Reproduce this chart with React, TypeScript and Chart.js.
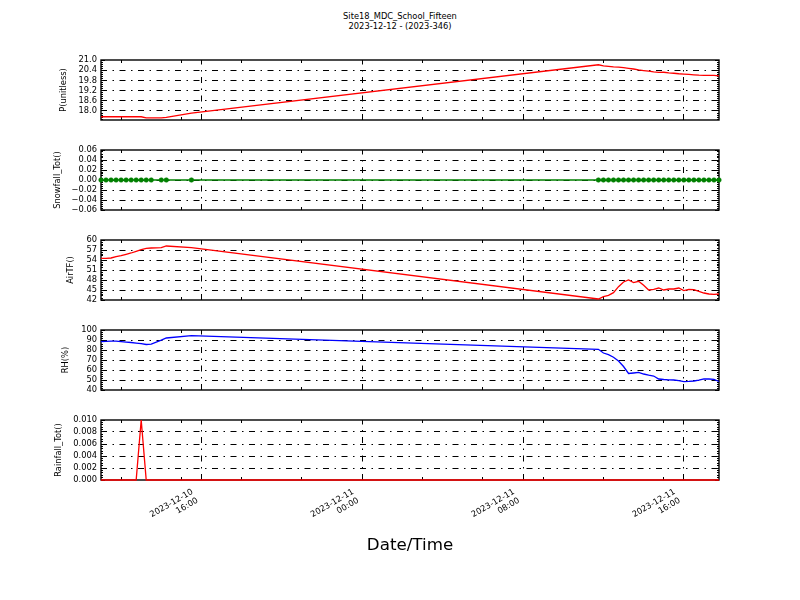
import React, { useEffect, useRef } from "react";
import { Chart, registerables } from "chart.js";

Chart.register(...registerables);

// ---------- text ----------
const TITLE_LINE1 = "Site18_MDC_School_Fifteen";
const TITLE_LINE2 = "2023-12-12 - (2023-346)";
const X_TITLE = "Date/Time";

// ---------- time axis (hours since 2023-12-10 00:00) ----------
const timeHours = [
  11.0, 11.25, 11.5, 11.75, 12.0, 12.25, 12.5, 12.75, 13.0, 13.25, 13.5, 14.0, 14.25, 15.5,
  35.75, 36.0, 36.25, 36.5, 36.75, 37.0, 37.25, 37.5, 37.75, 38.0, 38.25, 38.5, 38.75,
  39.0, 39.25, 39.5, 39.75, 40.0, 40.25, 40.5, 40.75, 41.0, 41.25, 41.5, 41.75,
];
const xMinHours = 11.0;
const xMaxHours = 41.75;
const xTickHours = [16, 24, 32, 40];
const xTickDates = ["2023-12-10", "2023-12-11", "2023-12-11", "2023-12-11"];
const xTickTimes = ["16:00", "00:00", "08:00", "16:00"];
const xMinorHours = [12, 15, 18, 21, 27, 30, 33, 36, 39];

// ---------- series ----------
const pValues = [
  17.66, 17.66, 17.66, 17.66, 17.66, 17.66, 17.66, 17.66, 17.66, 17.59, 17.59, 17.59, 17.63, 17.87,
  20.72, 20.66, 20.63, 20.6, 20.58, 20.55, 20.51, 20.47, 20.42, 20.38, 20.34, 20.3, 20.27,
  20.28, 20.24, 20.22, 20.19, 20.17, 20.15, 20.13, 20.11, 20.1, 20.1, 20.09, 20.06,
];
const snowfallValues = [
  0, 0, 0, 0, 0, 0, 0, 0, 0, 0, 0, 0, 0, 0,
  0, 0, 0, 0, 0, 0, 0, 0, 0, 0, 0, 0, 0,
  0, 0, 0, 0, 0, 0, 0, 0, 0, 0, 0, 0,
];
const airTFValues = [
  54.5, 54.5, 54.6, 55.0, 55.3, 55.7, 56.1, 56.6, 57.1, 57.5, 57.6, 57.7, 58.2, 57.7,
  42.3, 43.0, 43.4, 44.2, 46.0, 47.4, 48.0, 47.2, 47.6, 46.4, 45.0, 45.2, 45.6,
  45.0, 45.3, 45.3, 45.6, 44.8, 45.2, 45.1, 44.6, 44.1, 43.8, 43.7, 43.8,
];
const rhValues = [
  88.3, 88.6, 88.9, 88.9, 88.4, 87.9, 87.5, 86.9, 86.4, 85.5, 85.8, 89.8, 92.0, 94.3,
  80.7, 77.0, 75.3, 72.8, 69.0, 63.5, 56.5, 57.0, 57.6, 56.0, 54.8, 54.0, 51.0,
  50.5, 50.2, 50.0, 49.3, 48.4, 48.6, 49.0, 49.8, 51.2, 51.0, 50.6, 48.5,
];
const rainfallValues = [
  0, 0, 0, 0, 0, 0, 0, 0, 0.01, 0, 0, 0, 0, 0,
  0, 0, 0, 0, 0, 0, 0, 0, 0, 0, 0, 0, 0,
  0, 0, 0, 0, 0, 0, 0, 0, 0, 0, 0, 0,
];

// ---------- y tick labels ----------
const pTicks = [18.0, 18.6, 19.2, 19.8, 20.4, 21.0];
const snowTicks = [-0.06, -0.04, -0.02, 0, 0.02, 0.04, 0.06];
const airTicks = [42, 45, 48, 51, 54, 57, 60];
const rhTicks = [40, 50, 60, 70, 80, 90, 100];
const rainTicks = [0, 0.002, 0.004, 0.006, 0.008, 0.01];

const FONT = "'DejaVu Sans', 'Liberation Sans', sans-serif";
const TICK_SIZE = 8.3;

const fmtMinus = (s: string) => s.replace("-", "\u2212");

type Panel = {
  label: string;
  values: number[];
  color: string;
  min: number;
  max: number;
  ticks: number[];
  minorStep: number;
  fmt: (v: number) => string;
  markers: boolean;
  top: number; // page y of plot top
  titleX: number;
  last: boolean;
};

const panels: Panel[] = [
  { label: "P(unitless)", values: pValues, color: "#ff0000", min: 17.47, max: 21.0, ticks: pTicks, minorStep: 0.12,
    fmt: (v) => v.toFixed(1), markers: false, top: 60, titleX: 64, last: false },
  { label: "Snowfall_Tot()", values: snowfallValues, color: "#008000", min: -0.06, max: 0.06, ticks: snowTicks, minorStep: 0.004,
    fmt: (v) => fmtMinus(v.toFixed(2)), markers: true, top: 150, titleX: 58, last: false },
  { label: "AirTF()", values: airTFValues, color: "#ff0000", min: 42, max: 60, ticks: airTicks, minorStep: 0.6,
    fmt: (v) => String(Math.round(v)), markers: false, top: 240, titleX: 71, last: false },
  { label: "RH(%)", values: rhValues, color: "#0000ff", min: 40, max: 100, ticks: rhTicks, minorStep: 2,
    fmt: (v) => String(Math.round(v)), markers: false, top: 330, titleX: 66, last: false },
  { label: "Rainfall_Tot()", values: rainfallValues, color: "#ff0000", min: 0, max: 0.01, ticks: rainTicks, minorStep: 0.0004,
    fmt: (v) => v.toFixed(3), markers: false, top: 420, titleX: 59, last: true },
];

const PAD_TOP = 20;
const PLOT_H = 60;

const snap = (p: number) => Math.floor(p) + 0.5;

const mplPlugin = {
  id: "mplFrame",
  beforeDatasetsDraw(chart: any, _args: any, o: any) {
    const { ctx, chartArea: a } = chart;
    const xs = chart.scales.x;
    const ys = chart.scales.y;
    ctx.save();
    // dash-dot grid
    ctx.strokeStyle = "#000";
    ctx.lineWidth = 1;
    ctx.setLineDash([6, 5.5, 1.5, 5.5]);
    ctx.beginPath();
    for (const v of xTickHours) {
      const p = snap(xs.getPixelForValue(v));
      ctx.moveTo(p, a.bottom);
      ctx.lineTo(p, a.top);
    }
    for (const v of o.ticks as number[]) {
      const p = snap(ys.getPixelForValue(v));
      if (p <= a.top + 1 || p >= a.bottom - 1) continue;
      ctx.moveTo(a.left, p);
      ctx.lineTo(a.right, p);
    }
    ctx.stroke();
    ctx.setLineDash([]);

    // ticks (inward)
    ctx.beginPath();
    const major = 4;
    const minor = 2;
    for (const v of xTickHours) {
      const p = snap(xs.getPixelForValue(v));
      ctx.moveTo(p, a.top); ctx.lineTo(p, a.top + major);
      ctx.moveTo(p, a.bottom); ctx.lineTo(p, a.bottom - major);
    }
    for (const v of xMinorHours) {
      const p = snap(xs.getPixelForValue(v));
      ctx.moveTo(p, a.top); ctx.lineTo(p, a.top + minor + 1);
      ctx.moveTo(p, a.bottom); ctx.lineTo(p, a.bottom - minor - 1);
    }
    for (const v of o.ticks as number[]) {
      const p = snap(ys.getPixelForValue(v));
      ctx.moveTo(a.left, p); ctx.lineTo(a.left + major, p);
      ctx.moveTo(a.right, p); ctx.lineTo(a.right - major, p);
    }
    const first = (o.ticks as number[])[0];
    const step = o.minorStep as number;
    const eps = step * 1e-3;
    for (let k = -200; k <= 200; k++) {
      const v = first + k * step;
      if (v < o.min - eps || v > o.max + eps) continue;
      const p = snap(ys.getPixelForValue(v));
      ctx.moveTo(a.left, p); ctx.lineTo(a.left + minor, p);
      ctx.moveTo(a.right, p); ctx.lineTo(a.right - minor, p);
    }
    ctx.stroke();

    // frame
    ctx.lineWidth = 1.4;
    ctx.strokeRect(a.left, a.top, a.right - a.left, a.bottom - a.top);

    // y-axis title
    ctx.fillStyle = "#000";
    ctx.font = `${TICK_SIZE}px ${FONT}`;
    ctx.textAlign = "center";
    ctx.textBaseline = "middle";
    ctx.translate(o.titleX, (a.top + a.bottom) / 2);
    ctx.rotate(-Math.PI / 2);
    ctx.fillText(o.label, 0, 0);
    ctx.restore();
  },
};

function buildConfig(p: Panel): any {
  const canvasH = p.last ? 200 : 100;
  const xScaleH = 60;
  return {
    type: "line",
    data: {
      datasets: [
        {
          data: timeHours.map((t, i) => ({ x: t, y: p.values[i] })),
          borderColor: p.color,
          backgroundColor: p.color,
          borderWidth: 1.3,
          pointRadius: p.markers ? 2.3 : 0,
          pointBackgroundColor: p.color,
          pointBorderColor: p.color,
          pointBorderWidth: 0.5,
          tension: 0,
          fill: false,
          clip: false,
        },
      ],
    },
    options: {
      animation: false,
      responsive: false,
      maintainAspectRatio: false,
      devicePixelRatio: 1,
      events: [],
      layout: {
        padding: {
          left: 0,
          right: 800 - 719,
          top: PAD_TOP,
          bottom: p.last ? canvasH - PAD_TOP - PLOT_H - xScaleH : canvasH - PAD_TOP - PLOT_H,
        },
      },
      plugins: {
        legend: { display: false },
        tooltip: { enabled: false },
        title: { display: false },
        mplFrame: {
          ticks: p.ticks,
          minorStep: p.minorStep,
          min: p.min,
          max: p.max,
          label: p.label,
          titleX: p.titleX,
        },
      },
      scales: {
        x: {
          type: "linear",
          min: xMinHours,
          max: xMaxHours,
          display: p.last,
          grid: { display: false, drawTicks: false },
          border: { display: false },
          afterBuildTicks: (s: any) => {
            s.ticks = xTickHours.map((v) => ({ value: v }));
          },
          afterFit: (s: any) => {
            if (p.last) {
              s.height = xScaleH;
            } else {
              s.height = 0;
            }
            s.paddingLeft = 0;
            s.paddingRight = 0;
          },
          ticks: {
            autoSkip: false,
            minRotation: 30,
            maxRotation: 30,
            padding: 7,
            labelOffset: -9,
            color: "#000",
            font: { family: FONT, size: TICK_SIZE, lineHeight: 1.2 },
            callback: (v: number) => {
              const i = xTickHours.indexOf(v);
              return i >= 0 ? [xTickDates[i], xTickTimes[i]] : "";
            },
          },
        },
        y: {
          type: "linear",
          min: p.min,
          max: p.max,
          grid: { display: false, drawTicks: false },
          border: { display: false },
          afterBuildTicks: (s: any) => {
            s.ticks = p.ticks.map((v) => ({ value: v }));
          },
          afterFit: (s: any) => {
            s.width = 101;
            s.paddingTop = 0;
            s.paddingBottom = 0;
          },
          ticks: {
            autoSkip: false,
            padding: 4,
            color: "#000",
            font: { family: FONT, size: TICK_SIZE },
            callback: (v: number) => p.fmt(v),
          },
        },
      },
    },
    plugins: [mplPlugin],
  };
}

export default function App() {
  const refs = useRef<(HTMLCanvasElement | null)[]>([]);

  useEffect(() => {
    const charts = panels.map((p, i) => new Chart(refs.current[i] as HTMLCanvasElement, buildConfig(p)));
    return () => {
      charts.forEach((c) => c.destroy());
    };
  }, []);

  return (
    <div
      style={{
        position: "fixed",
        left: 0,
        top: 0,
        width: 800,
        height: 600,
        background: "#fff",
        overflow: "hidden",
      }}
    >
      <div
        style={{
          position: "absolute",
          left: 0,
          top: 11,
          width: 800,
          textAlign: "center",
          fontFamily: FONT,
          fontSize: "8.3px",
          lineHeight: "10px",
          color: "#000",
          whiteSpace: "nowrap",
        }}
      >
        {TITLE_LINE1}
        <br />
        {TITLE_LINE2}
      </div>
      {panels.map((p, i) => {
        const h = p.last ? 200 : 100;
        return (
          <canvas
            key={i}
            ref={(el) => {
              refs.current[i] = el;
            }}
            width={800}
            height={h}
            style={{ position: "absolute", left: 0, top: p.top - PAD_TOP, width: 800, height: h }}
          />
        );
      })}
      <div
        style={{
          position: "absolute",
          left: 101,
          width: 618,
          top: 534,
          textAlign: "center",
          fontFamily: FONT,
          fontSize: "16.7px",
          lineHeight: "20px",
          color: "#000",
          whiteSpace: "nowrap",
        }}
      >
        {X_TITLE}
      </div>
    </div>
  );
}
